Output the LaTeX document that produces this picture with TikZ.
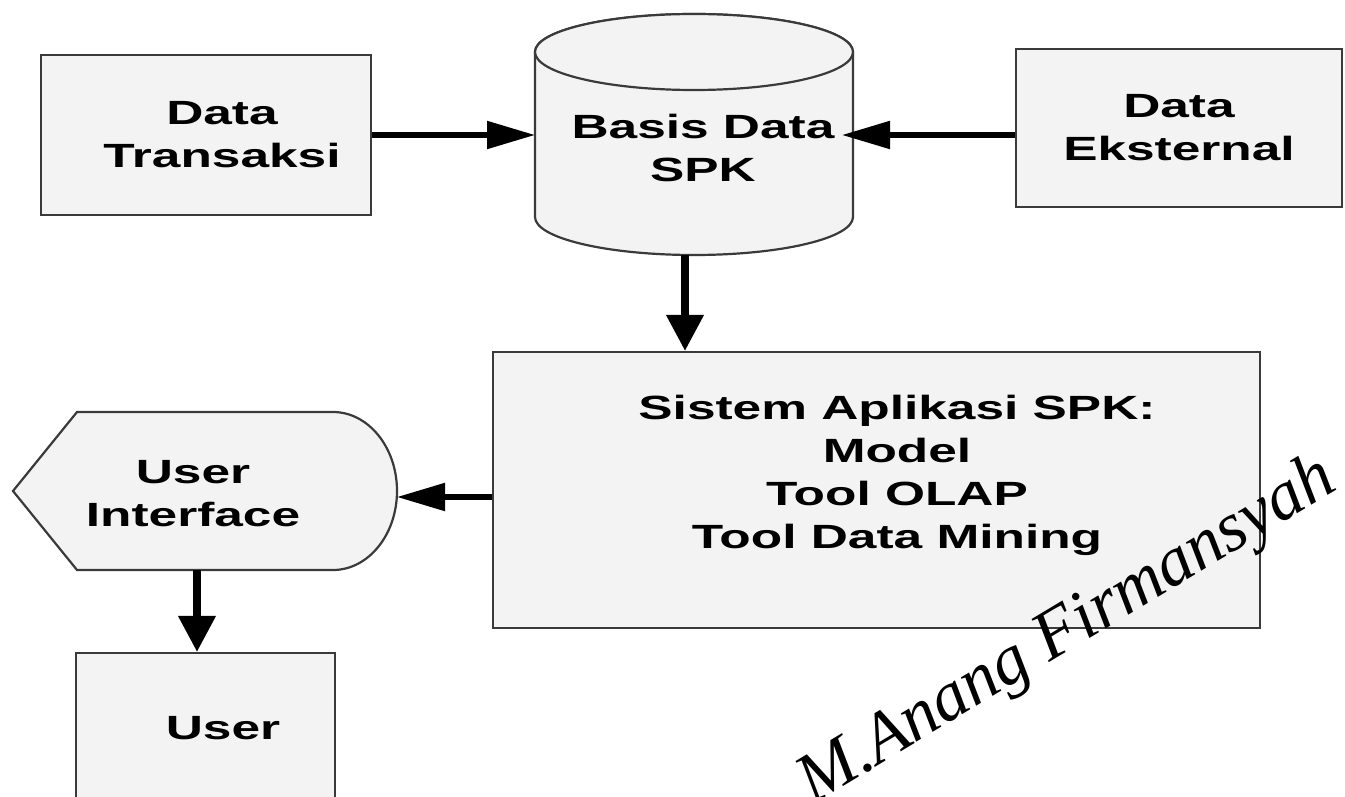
\documentclass[tikz,border=0pt]{standalone}
\usepackage{fontspec}
\setmainfont{Liberation Sans}[FakeStretch=1.53]
\newfontfamily\signfont{Liberation Serif}
\usetikzlibrary{arrows.meta, calc, backgrounds}

\definecolor{boxfill}{HTML}{F3F3F3}
\definecolor{boxline}{HTML}{3A3A3A}

\tikzstyle{boxtext}=[align=center, inner sep=0pt, font=\bfseries\fontsize{16.8}{21.5}\selectfont]
\tikzstyle{box}=[boxtext, draw=boxline, fill=boxfill, line width=1.1pt]
\tikzstyle{shapeline}=[draw=boxline, fill=boxfill, line width=1.1pt]
\tikzstyle{hflow}=[-{Triangle[length=24pt,width=13.5pt]}, line width=2.6pt]
\tikzstyle{vflow}=[-{Triangle[length=18pt,width=18pt]}, line width=3.6pt]
\tikzstyle{sign}=[font=\signfont\itshape\fontsize{35}{35}\selectfont]

\begin{document}
\begin{tikzpicture}[x=0.5pt,y=-0.5pt]
        \useasboundingbox (0,0) rectangle (1345,797);

        % Data Transaksi
        \node[box, minimum width=165pt, minimum height=80pt] (trans) at (206,135) {};
        \node[boxtext] (transtext) at (222,135) {Data\\Transaksi};

        % Data Eksternal
        \node[box, minimum width=163pt, minimum height=79pt] (eks) at (1179,128) {Data\\Eksternal};

        % Basis Data SPK (cylinder)
        \draw[shapeline] (535,52) arc[start angle=180, end angle=0, x radius=79.5pt, y radius=19pt]
          -- (853,217) arc[start angle=0, end angle=-180, x radius=79.5pt, y radius=19pt] -- cycle;
        \draw[shapeline] (694,52) ellipse [x radius=79.5pt, y radius=19pt];
        \node[boxtext] (db) at (703,147.5) {Basis Data\\SPK};
        \coordinate (dbL) at (535,135);
        \coordinate (dbR) at (842,135);
        \coordinate (dbB) at (685,255);

        % Sistem Aplikasi SPK
        \node[box, minimum width=383.5pt, minimum height=138pt] (app) at (876.5,490) {};
        \node[boxtext] (apptext) at (897,475)
          {Sistem Aplikasi SPK:\\Model\\Tool OLAP\\Tool Data Mining};

        % User Interface (display shape)
        \draw[shapeline] (13,491) -- (77,412) -- (333,412)
          arc[start angle=90, end angle=-90, x radius=32pt, y radius=39.5pt]
          -- (77,570) -- cycle;
        \node[boxtext] (ui) at (193,493.5) {User\\Interface};
        \coordinate (uiR) at (397,497);
        \coordinate (uiB) at (197,570);

        % User
        \node[box, minimum width=129.5pt, minimum height=78.5pt] (user) at (205.5,731.5) {};
        \node[boxtext] (usertext) at (223,728) {User};

        % signature
        \node[sign, rotate=31] (sig) at (1068,632) {M.Anang Firmansyah};

        \path[hflow]
        (trans) edge (dbL)
        (eks.west |- dbR) edge (dbR)
        (app.west |- uiR) edge (uiR);
        \path[vflow]
        (dbB) edge (dbB |- app.north)
        (uiB) edge (uiB |- user.north);
\end{tikzpicture}
\end{document}
